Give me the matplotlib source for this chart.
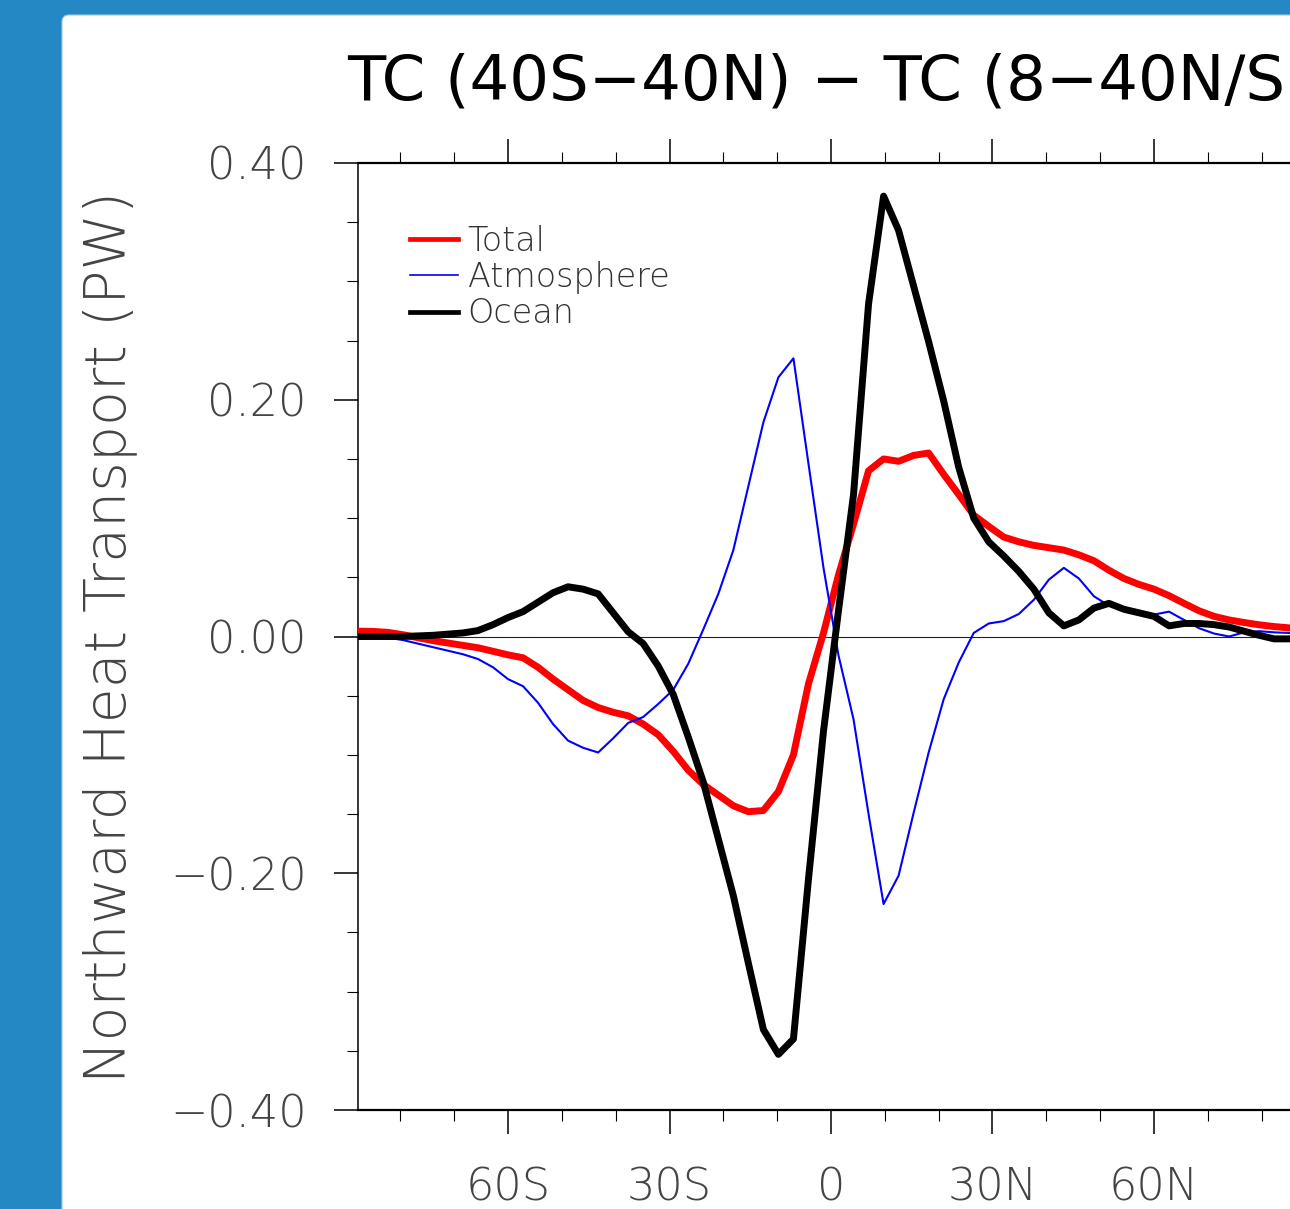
import matplotlib
matplotlib.use("Agg")
import matplotlib.pyplot as plt
from matplotlib.patches import FancyBboxPatch
from matplotlib.ticker import MultipleLocator

plt.rcParams['font.family'] = ['DejaVu Sans']

# T42 gaussian latitudes (S -> N)
lat_n = [1.3953, 4.1861, 6.9768, 9.7676, 12.5583, 15.3490, 18.1397, 20.9303,
         23.7210, 26.5116, 29.3023, 32.0929, 34.8836, 37.6742, 40.4648, 43.2554,
         46.0460, 48.8366, 51.6272, 54.4177, 57.2083, 59.9989, 62.7895, 65.5800,
         68.3706, 71.1611, 73.9516, 76.7422, 79.5327, 82.3231, 85.0965, 87.8638]
lat = [-v for v in lat_n[::-1]] + lat_n

# Northward heat transport (PW)
total = [0.0045, 0.0043, 0.0035, 0.0015, -0.001, -0.0035, -0.0055, -0.0075,
         -0.0095, -0.0125, -0.0155, -0.018, -0.026, -0.036, -0.045, -0.054,
         -0.060, -0.064, -0.067, -0.074, -0.083, -0.097, -0.113, -0.125,
         -0.134, -0.143, -0.148, -0.147, -0.131, -0.100, -0.040, 0.003,
         0.052, 0.095, 0.140, 0.150, 0.148, 0.153, 0.155, 0.137,
         0.120, 0.1025, 0.093, 0.084, 0.080, 0.077, 0.075, 0.073,
         0.069, 0.064, 0.056, 0.049, 0.044, 0.040, 0.0345, 0.028,
         0.0217, 0.017, 0.014, 0.0118, 0.0099, 0.0084, 0.0073, 0.0065]

atmos = [0.000, -0.0005, -0.001, -0.003, -0.006, -0.009, -0.012, -0.015,
         -0.019, -0.026, -0.036, -0.042, -0.056, -0.074, -0.088, -0.094,
         -0.098, -0.086, -0.073, -0.068, -0.057, -0.045, -0.023, 0.006,
         0.036, 0.073, 0.127, 0.181, 0.219, 0.235, 0.146, 0.058,
         -0.016, -0.070, -0.150, -0.226, -0.202, -0.149, -0.098, -0.053,
         -0.022, 0.003, 0.011, 0.013, 0.019, 0.031, 0.048, 0.058,
         0.049, 0.034, 0.026, 0.023, 0.020, 0.0185, 0.021, 0.014,
         0.007, 0.0025, 0.000, 0.0035, 0.0045, 0.0035, 0.003, 0.002]

ocean = [0.000, 0.000, 0.000, 0.000, 0.0005, 0.001, 0.002, 0.003,
         0.005, 0.010, 0.016, 0.021, 0.029, 0.037, 0.042, 0.040,
         0.036, 0.020, 0.004, -0.006, -0.025, -0.049, -0.085, -0.123,
         -0.171, -0.219, -0.276, -0.332, -0.353, -0.340, -0.205, -0.080,
         0.022, 0.120, 0.281, 0.372, 0.343, 0.296, 0.249, 0.199,
         0.143, 0.100, 0.080, 0.068, 0.055, 0.040, 0.020, 0.009,
         0.014, 0.024, 0.028, 0.023, 0.020, 0.017, 0.009, 0.011,
         0.011, 0.010, 0.008, 0.0045, 0.001, -0.002, -0.002, -0.001]

xticks = [-60, -30, 0, 30, 60]
xticklabels = ['60S', '30S', '0', '30N', '60N']
yticks = [-0.4, -0.2, 0.0, 0.2, 0.4]
yticklabels = ['\u22120.40', '\u22120.20', '0.00', '0.20', '0.40']

W, H = 1290, 1209
thin = 200  # extra light weight

fig = plt.figure(figsize=(W / 100, H / 100), dpi=100)
fig.patch.set_facecolor('#2388c4')

# white panel with rounded corner
panel = FancyBboxPatch((0.62, -1.0), 14.0, (H - 15) / 100 + 1.0,
                       boxstyle='round,pad=0,rounding_size=0.07',
                       transform=fig.dpi_scale_trans, facecolor='white',
                       edgecolor='#9ccbe8', linewidth=0.8, zorder=-10)
fig.patches.append(panel)

ax = fig.add_axes([358 / W, 1 - 1110 / H, (1304 - 358) / W, (1110 - 163) / H])
ax.set_xlim(-87.8638, 87.8638)
ax.set_ylim(-0.4, 0.4)
ax.set_facecolor('none')

ax.axhline(0, color='#222222', linewidth=0.8, zorder=1)
ax.plot(lat, total, color='#ff0000', linewidth=5, label='Total', zorder=3)
ax.plot(lat, atmos, color='#0000ff', linewidth=1.5, label='Atmosphere', zorder=4)
ax.plot(lat, ocean, color='black', linewidth=5, label='Ocean', zorder=5)

ax.set_xticks(xticks)
ax.set_xticklabels(xticklabels)
ax.xaxis.set_minor_locator(MultipleLocator(10))
ax.set_yticks(yticks)
ax.set_yticklabels(yticklabels)
ax.yaxis.set_minor_locator(MultipleLocator(0.05))

ax.tick_params(which='both', direction='out', top=True, bottom=True,
               left=True, right=False, labeltop=False, color='black')
ax.tick_params(which='major', length=17, width=1.1)
ax.tick_params(which='minor', length=8, width=0.8)
ax.tick_params(axis='x', which='major', pad=24, labelsize=32, labelcolor='#444444')
ax.tick_params(axis='y', which='major', pad=20, labelsize=32, labelcolor='#444444')
for lab in ax.get_xticklabels() + ax.get_yticklabels():
    lab.set_fontweight(thin)

ax.spines['right'].set_visible(False)
ax.spines['top'].set_linewidth(1.6)
ax.spines['bottom'].set_linewidth(1.6)
ax.spines['left'].set_linewidth(1.1)

leg = ax.legend(loc='upper left', bbox_to_anchor=(0.055, 0.935), frameon=False,
                handlelength=1.45, handletextpad=0.28,
                labelspacing=0.1, borderpad=0, borderaxespad=0,
                prop={'weight': thin, 'size': 24})
for t in leg.get_texts():
    t.set_color('#333333')
leg_widths = [3.4, 1.2, 3.4]
for ln, lw in zip(leg.get_lines(), leg_widths):
    ln.set_linewidth(lw)

fig.text(110 / W, 1 - 637 / H, 'Northward Heat Transport (PW)', rotation=90,
         ha='center', va='center', fontsize=41, fontweight=thin, color='#444444')
fig.text(347 / W, 1 - 99 / H, 'TC (40S\u221240N) \u2212 TC (8\u221240N/S)',
         ha='left', va='baseline', fontsize=45, color='black')

fig.savefig('out.png', dpi=100, facecolor=fig.get_facecolor())
